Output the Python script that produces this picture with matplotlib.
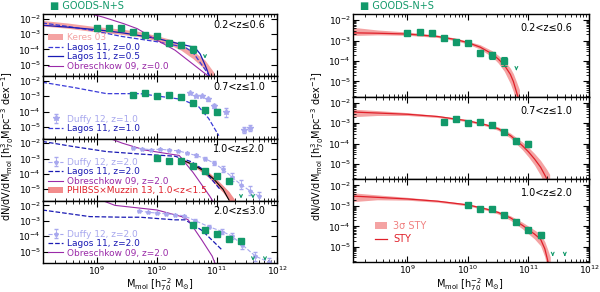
import matplotlib
matplotlib.use("Agg")
import matplotlib.pyplot as plt
import numpy as np

plt.rcParams['font.family'] = ['DejaVu Sans']
plt.rcParams['font.size'] = 6.5
plt.rcParams['mathtext.default'] = 'regular'

green = '#12996a'
pink = '#f4a3a3'
red = '#e0202a'
dblue = '#1a1ab4'
purple = '#9a2aa8'
lblue = '#a8a8ee'

z_labels_left = ['0.2<z≤0.6', '0.7<z≤1.0', '1.0<z≤2.0', '2.0<z≤3.0']
z_labels_right = ['0.2<z≤0.6', '0.7<z≤1.0', '1.0<z≤2.0']

# GOODS-N+S points (log M, log phi, err)
goods_m = [
    [9.0, 9.2, 9.4, 9.6, 9.8, 10.0, 10.2, 10.4, 10.6],
    [9.6, 9.8, 10.0, 10.2, 10.4, 10.6, 10.8, 11.0],
    [10.0, 10.2, 10.4, 10.6, 10.8, 11.0, 11.2],
    [10.6, 10.8, 11.0, 11.2, 11.4],
]
goods_phi = [
    [-2.64, -2.58, -2.63, -2.88, -3.08, -3.14, -3.6, -3.72, -4.0],
    [-2.92, -2.8, -2.97, -2.94, -3.08, -3.45, -3.88, -4.0],
    [-2.97, -3.15, -3.14, -3.46, -3.78, -4.16, -4.44],
    [-3.28, -3.58, -3.88, -4.17, -4.33],
]
goods_err = [
    [0.06, 0.06, 0.06, 0.07, 0.08, 0.08, 0.15, 0.18, 0.22],
    [0.07, 0.06, 0.06, 0.06, 0.07, 0.08, 0.15, 0.15],
    [0.06, 0.06, 0.06, 0.07, 0.08, 0.1, 0.15],
    [0.08, 0.08, 0.09, 0.1, 0.1],
]
arrow_m = [[10.8], [], [11.4, 11.6], [11.6, 11.8]]
arrow_phi = [[-4.25], [], [-5.25, -5.25], [-5.25, -5.25]]

# Keres 03 band (left panel 1)
keres_m = [8.09, 8.5, 8.9, 9.4, 9.7, 10.0, 10.2, 10.4, 10.6, 10.8, 10.95]
keres_lo = [-2.48, -2.62, -2.82, -3.02, -3.17, -3.45, -3.68, -4.05, -4.6, -5.3, -6.1]
keres_hi = [-2.12, -2.28, -2.48, -2.68, -2.83, -3.11, -3.32, -3.65, -4.1, -4.7, -5.5]

# Lagos 11 curves
lagos0_m = [8.09, 8.5, 8.9, 9.4, 10.0, 10.47, 10.6, 10.69, 10.8, 10.9]
lagos0_phi = [-2.28, -2.5, -2.75, -3.15, -3.5, -3.87, -4.2, -4.69, -5.3, -5.9]
lagos05_m = [8.09, 8.5, 9.0, 9.44, 10.0, 10.3, 10.63, 10.72, 10.8, 10.88]
lagos05_phi = [-2.43, -2.55, -2.72, -2.93, -3.29, -3.57, -3.87, -4.3, -5.0, -5.8]
lagos1_m = [8.09, 8.6, 9.16, 9.44, 9.72, 10.0, 10.41, 10.69, 10.86, 11.03]
lagos1_phi = [-2.09, -2.42, -2.83, -2.83, -2.83, -2.98, -3.2, -3.66, -4.44, -5.56]
lagos2a_m = [8.09, 8.6, 9.16, 9.72, 10.3, 10.58, 10.75, 10.9, 11.05]
lagos2a_phi = [-1.89, -2.22, -2.55, -2.71, -2.85, -3.22, -3.67, -4.3, -5.0]
lagos2b_m = [8.09, 8.88, 9.44, 9.72, 10.3, 10.47, 10.75, 10.92, 11.09]
lagos2b_phi = [-2.3, -2.73, -2.77, -2.77, -2.94, -2.94, -3.63, -4.27, -4.92]

# Obreschkow 09 curves
obr0_m = [8.8, 9.1, 9.44, 9.67, 10.0, 10.3, 10.58, 10.86, 10.95]
obr0_phi = [-1.6, -1.9, -2.32, -2.65, -3.4, -4.05, -4.9, -5.75, -6.1]
obr2a_m = [9.1, 9.42, 9.8, 10.2, 10.37, 10.6, 10.88, 10.95]
obr2a_phi = [-1.53, -2.0, -2.45, -2.7, -2.8, -3.9, -5.45, -5.9]
obr2b_m = [9.1, 9.3, 10.0, 10.41, 10.52, 10.75, 10.92, 10.97]
obr2b_phi = [-1.7, -2.0, -2.3, -2.73, -2.94, -4.27, -5.3, -5.8]

# Duffy 12
duffy1_m = [10.55, 10.65, 10.75, 10.85, 10.95, 11.15, 11.45, 11.55]
duffy1_phi = [-2.78, -3.0, -3.0, -3.2, -3.65, -4.05, -5.2, -5.05]
duffy1_err = [0.05, 0.06, 0.06, 0.08, 0.12, 0.3, 0.2, 0.2]
duffy2a_m = [9.6, 9.75, 9.9, 10.05, 10.2, 10.35, 10.5, 10.65, 10.8, 10.95, 11.1, 11.25, 11.4, 11.55, 11.7]
duffy2a_phi = [-2.3, -2.38, -2.42, -2.4, -2.45, -2.5, -2.65, -2.8, -3.0, -3.3, -3.7, -4.2, -4.7, -5.1, -5.45]
duffy2a_err = [0.05, 0.05, 0.05, 0.05, 0.06, 0.06, 0.08, 0.1, 0.12, 0.15, 0.2, 0.25, 0.3, 0.3, 0.3]
duffy2b_m = [9.7, 9.85, 10.0, 10.15, 10.3, 10.45, 10.64, 10.86, 11.09, 11.25, 11.42, 11.64, 11.87]
duffy2b_phi = [-2.35, -2.45, -2.5, -2.55, -2.6, -2.68, -3.0, -3.38, -3.7, -4.0, -4.56, -5.3, -5.7]
duffy2b_err = [0.05, 0.05, 0.05, 0.06, 0.06, 0.07, 0.1, 0.12, 0.15, 0.2, 0.25, 0.3, 0.3]

# PHIBSS x Muzzin 13 (left panel 3)
phibss_m = [10.41, 10.55, 10.69, 10.85, 10.97, 11.1, 11.2, 11.3]
phibss_lo = [-3.12, -3.4, -3.72, -4.2, -4.65, -5.2, -5.75, -6.3]
phibss_hi = [-3.02, -3.22, -3.48, -3.85, -4.25, -4.75, -5.15, -5.7]
phibss_line_m = [10.41, 10.6, 10.8, 10.95, 11.1, 11.2]
phibss_line_phi = [-3.07, -3.4, -3.85, -4.35, -5.0, -5.7]

# STY fits (right panels)
sty_m = [
    [8.1, 8.5, 9.0, 9.5, 9.8, 10.0, 10.2, 10.4, 10.5, 10.6, 10.7, 10.75, 10.8, 10.85],
    [8.1, 8.5, 9.0, 9.5, 10.0, 10.3, 10.5, 10.7, 10.9, 11.0, 11.1, 11.2, 11.3, 11.35],
    [8.1, 8.5, 9.0, 9.5, 10.0, 10.3, 10.5, 10.7, 10.9, 11.1, 11.2, 11.27, 11.32, 11.36],
]
sty_phi = [
    [-2.62, -2.64, -2.68, -2.8, -2.95, -3.1, -3.32, -3.65, -3.9, -4.2, -4.65, -5.0, -5.5, -6.0],
    [-2.45, -2.5, -2.56, -2.67, -2.88, -3.08, -3.27, -3.6, -4.1, -4.4, -4.75, -5.15, -5.7, -6.0],
    [-2.52, -2.58, -2.66, -2.77, -2.95, -3.15, -3.32, -3.58, -3.95, -4.38, -4.63, -5.1, -5.7, -6.1],
]
sty_lo = [
    [-2.75, -2.72, -2.74, -2.85, -3.01, -3.17, -3.42, -3.8, -4.1, -4.5, -5.1, -5.5, -6.1, -6.6],
    [-2.68, -2.62, -2.62, -2.72, -2.93, -3.14, -3.35, -3.72, -4.3, -4.65, -5.05, -5.55, -6.2, -6.6],
    [-2.79, -2.7, -2.72, -2.82, -3.0, -3.21, -3.4, -3.7, -4.12, -4.62, -4.95, -5.5, -6.2, -6.7],
]
sty_hi = [
    [-2.35, -2.48, -2.58, -2.73, -2.88, -3.03, -3.2, -3.5, -3.72, -3.98, -4.35, -4.62, -5.0, -5.4],
    [-2.31, -2.38, -2.48, -2.62, -2.83, -3.02, -3.18, -3.48, -3.92, -4.18, -4.48, -4.82, -5.25, -5.5],
    [-2.36, -2.46, -2.58, -2.72, -2.9, -3.09, -3.25, -3.48, -3.8, -4.18, -4.38, -4.75, -5.15, -5.5],
]

xlim = (10**8.1, 1e12)
ylim = (1.8e-6, 2e-2)


def p(a):
    return 10**np.asarray(a, dtype=float)


def style_axis(ax, bottom):
    ax.set_xscale('log')
    ax.set_yscale('log')
    ax.set_xlim(*xlim)
    ax.set_ylim(*ylim)
    ax.set_yticks([1e-5, 1e-4, 1e-3, 1e-2])
    ax.tick_params(which='both', direction='in', top=True, right=True, labelsize=6.5, pad=1.5)
    ax.tick_params(which='major', length=4, width=0.8)
    ax.tick_params(which='minor', length=2, width=0.6)
    ax.set_xticks([1e9, 1e10, 1e11, 1e12])
    if not bottom:
        ax.tick_params(labelbottom=False)
    for s in ax.spines.values():
        s.set_linewidth(1.0)


def plot_goods(ax, i):
    ax.errorbar(p(goods_m[i]), p(goods_phi[i]),
                yerr=[p(goods_phi[i]) - p(np.array(goods_phi[i]) - np.array(goods_err[i])),
                      p(np.array(goods_phi[i]) + np.array(goods_err[i])) - p(goods_phi[i])],
                fmt='s', color=green, ms=4, capsize=2, elinewidth=0.8, capthick=0.8, zorder=6)
    for m, f in zip(arrow_m[i], arrow_phi[i]):
        ax.annotate('', xy=(10**m, 10**(f - 0.35)), xytext=(10**m, 10**f),
                    arrowprops=dict(arrowstyle='->', color=green, lw=0.8, mutation_scale=5))


def color_legend(leg, colors):
    for t, c in zip(leg.get_texts(), colors):
        t.set_color(c)


fig = plt.figure(figsize=(6, 2.92), dpi=100)

# left column
lx, lw = 43 / 600, 234 / 600
ltop, lbot = 1 - 14 / 292, 1 - 263 / 292
lh = (ltop - lbot) / 4
left_axes = []
for i in range(4):
    ax = fig.add_axes([lx, ltop - (i + 1) * lh, lw, lh])
    style_axis(ax, i == 3)
    ax.text(0.95, 0.83, z_labels_left[i], transform=ax.transAxes, ha='right', va='center', fontsize=7)
    left_axes.append(ax)

ax = left_axes[0]
h1 = ax.fill_between(p(keres_m), p(keres_lo), p(keres_hi), color=pink, lw=0, label='Keres 03')
h2, = ax.plot(p(lagos0_m), p(lagos0_phi), '--', color='#3a3ad8', lw=0.9, label='Lagos 11, z=0.0')
h3, = ax.plot(p(lagos05_m), p(lagos05_phi), '-', color=dblue, lw=0.9, label='Lagos 11, z=0.5')
h4, = ax.plot(p(obr0_m), p(obr0_phi), '-', color=purple, lw=0.8, label='Obreschkow 09, z=0.0')
plot_goods(ax, 0)
leg = ax.legend(handles=[h1, h2, h3, h4], loc='lower left', fontsize=6.5, frameon=False,
                handlelength=1.6, labelspacing=0.05, borderaxespad=0.2, handletextpad=0.5)
color_legend(leg, [pink, dblue, dblue, purple])

ax = left_axes[1]
d1 = ax.errorbar(p(duffy1_m), p(duffy1_phi),
                 yerr=[p(duffy1_phi) - p(np.array(duffy1_phi) - np.array(duffy1_err)),
                       p(np.array(duffy1_phi) + np.array(duffy1_err)) - p(duffy1_phi)],
                 fmt='*', color=lblue, ms=4, capsize=1.5, elinewidth=0.6, label='Duffy 12, z=1.0')
l1, = ax.plot(p(lagos1_m), p(lagos1_phi), '--', color='#3a3ad8', lw=0.9, label='Lagos 11, z=1.0')
plot_goods(ax, 1)
leg = ax.legend(handles=[d1, l1], loc='lower left', fontsize=6.5, frameon=False,
                handlelength=1.6, labelspacing=0.05, borderaxespad=0.2, handletextpad=0.5)
color_legend(leg, [lblue, dblue])

ax = left_axes[2]
d2 = ax.errorbar(p(duffy2a_m), p(duffy2a_phi),
                 yerr=[p(duffy2a_phi) - p(np.array(duffy2a_phi) - np.array(duffy2a_err)),
                       p(np.array(duffy2a_phi) + np.array(duffy2a_err)) - p(duffy2a_phi)],
                 fmt='*--', color=lblue, ms=3, lw=0.8, capsize=1.5, elinewidth=0.6, label='Duffy 12, z=2.0')
l2, = ax.plot(p(lagos2a_m), p(lagos2a_phi), '--', color=dblue, lw=0.9, label='Lagos 11, z=2.0')
o2, = ax.plot(p(obr2a_m), p(obr2a_phi), '-', color=purple, lw=0.8, label='Obreschkow 09, z=2.0')
ph = ax.fill_between(p(phibss_m), p(phibss_lo), p(phibss_hi), color='#f07070', alpha=0.8, lw=0,
                     label='PHIBSS×Muzzin 13, 1.0<z<1.5')
ax.plot(p(phibss_line_m), p(phibss_line_phi), '-', color='k', lw=0.8)
plot_goods(ax, 2)
leg = ax.legend(handles=[d2, l2, o2, ph], loc='lower left', fontsize=6.5, frameon=False,
                handlelength=1.6, labelspacing=0.05, borderaxespad=0.2, handletextpad=0.5)
color_legend(leg, [lblue, dblue, purple, red])

ax = left_axes[3]
d3 = ax.errorbar(p(duffy2b_m), p(duffy2b_phi),
                 yerr=[p(duffy2b_phi) - p(np.array(duffy2b_phi) - np.array(duffy2b_err)),
                       p(np.array(duffy2b_phi) + np.array(duffy2b_err)) - p(duffy2b_phi)],
                 fmt='*--', color=lblue, ms=3, lw=0.8, capsize=1.5, elinewidth=0.6, label='Duffy 12, z=2.0')
l3, = ax.plot(p(lagos2b_m), p(lagos2b_phi), '--', color=dblue, lw=0.9, label='Lagos 11, z=2.0')
o3, = ax.plot(p(obr2b_m), p(obr2b_phi), '-', color=purple, lw=0.8, label='Obreschkow 09, z=2.0')
plot_goods(ax, 3)
leg = ax.legend(handles=[d3, l3, o3], loc='lower left', fontsize=6.5, frameon=False,
                handlelength=1.6, labelspacing=0.05, borderaxespad=0.2, handletextpad=0.5)
color_legend(leg, [lblue, dblue, purple])

# right column
rx, rw = 353 / 600, 236 / 600
rtop, rbot = 1 - 14 / 292, 1 - 262 / 292
rh = (rtop - rbot) / 3
right_axes = []
for i in range(3):
    ax = fig.add_axes([rx, rtop - (i + 1) * rh, rw, rh])
    style_axis(ax, i == 2)
    ax.text(0.93, 0.83, z_labels_right[i], transform=ax.transAxes, ha='right', va='center', fontsize=7)
    band = ax.fill_between(p(sty_m[i]), p(sty_lo[i]), p(sty_hi[i]), color=pink, lw=0, label='3σ STY')
    line, = ax.plot(p(sty_m[i]), p(sty_phi[i]), '-', color=red, lw=0.9, label='STY')
    plot_goods(ax, i)
    right_axes.append(ax)
    if i == 2:
        leg = ax.legend(handles=[band, line], loc='lower left', fontsize=7, frameon=False,
                        handlelength=1.3, labelspacing=0.3, borderaxespad=0.6, handletextpad=0.6,
                        bbox_to_anchor=(0.05, 0.1))
        color_legend(leg, ['#f08080', red])

# GOODS labels above
for x0 in [50 / 600, 360 / 600]:
    fig.text(x0, 1 - 6 / 292, '■ GOODS-N+S', color=green, fontsize=7, va='center', ha='left')

ylab = r'dN/dV/dM$_{mol}$ [h$^{3}_{70}$Mpc$^{-3}$ dex$^{-1}$]'
fig.text(8 / 600, 0.5, ylab, rotation=90, va='center', ha='center', fontsize=7)
fig.text(318 / 600, 0.5, ylab, rotation=90, va='center', ha='center', fontsize=7)
xlab = r'M$_{mol}$ [h$^{-2}_{70}$ M$_{\odot}$]'
fig.text(160 / 600, 1 - 285 / 292, xlab, ha='center', va='center', fontsize=7)
fig.text(470 / 600, 1 - 285 / 292, xlab, ha='center', va='center', fontsize=7)

fig.savefig('out.png', dpi=100)
